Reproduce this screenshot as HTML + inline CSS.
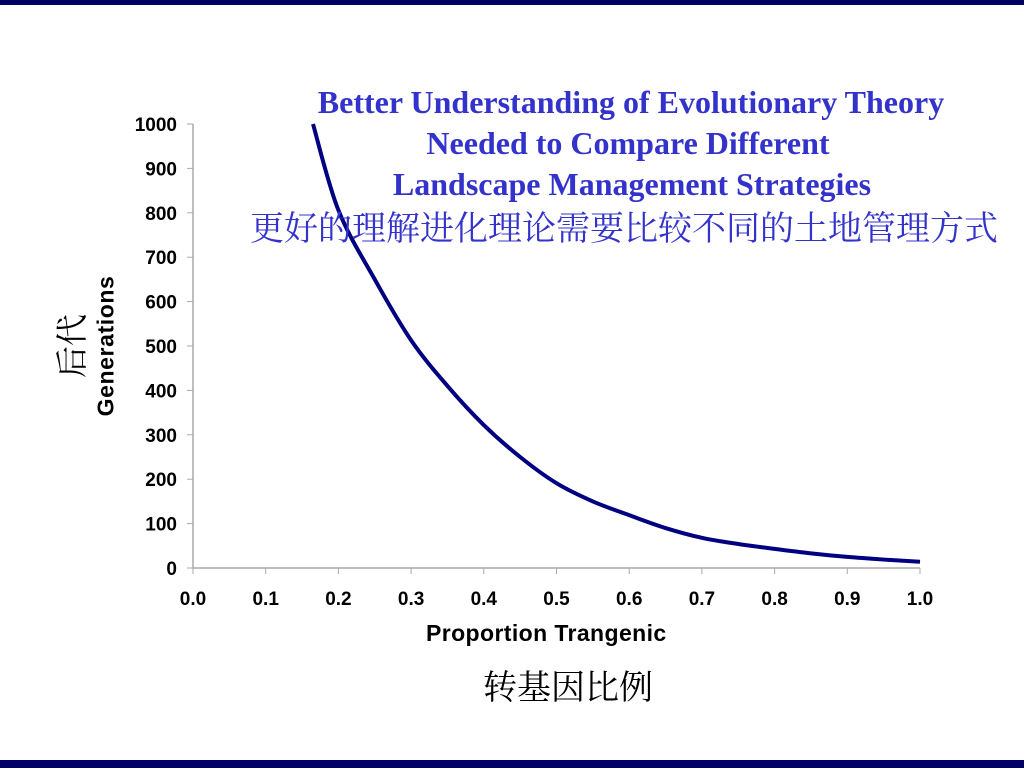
<!DOCTYPE html>
<html><head><meta charset="utf-8"><style>
body{margin:0;width:1024px;height:768px;background:#fff;position:relative;overflow:hidden;font-family:"Liberation Sans",sans-serif}
.t{position:absolute;white-space:nowrap}
.tl{position:absolute;left:131px;width:1000px;text-align:center;color:#3333cc;font:bold 32px 'Liberation Serif',serif;white-space:nowrap}
</style></head><body>
<div style="position:absolute;left:0;top:0;width:1024px;height:5px;background:#000066"></div>
<div style="position:absolute;left:0;top:760px;width:1024px;height:8px;background:#000066"></div>
<svg id="chart" width="1024" height="768" style="position:absolute;left:0;top:0"></svg>
<div>
<div class="tl" style="top:84px">Better Understanding of Evolutionary Theory</div>
<div class="tl" style="top:125px;left:128px">Needed to Compare Different</div>
<div class="tl" style="top:166px;left:132px">Landscape Management Strategies</div>
</div>
<div class="t" style="left:250px;top:204px;color:#3333cc;font:34px 'Noto Serif CJK SC','Noto Sans CJK SC',serif;line-height:44px">更好的理解进化理论需要比较不同的土地管理方式</div>
<div class="t" style="left:426px;top:620px;font:bold 23px 'Liberation Sans',sans-serif;letter-spacing:0.4px">Proportion Trangenic</div>
<div class="t" style="left:483px;top:662px;font:34px 'Noto Serif CJK SC',serif;line-height:46px">转基因比例</div>
<div class="t" style="left:106px;top:346px;transform:translate(-50%,-50%) rotate(-90deg);font:bold 23px 'Liberation Sans',sans-serif;letter-spacing:0.6px">Generations</div>
<div class="t" style="left:70px;top:346px;transform:translate(-50%,-50%) rotate(-90deg);font:32px 'Noto Serif CJK SC',serif">后代</div>
<script>
const xTicks=[0,0.1,0.2,0.3,0.4,0.5,0.6,0.7,0.8,0.9,1.0];
const yTicks=[0,100,200,300,400,500,600,700,800,900,1000];
const xs=[0.165,0.2,0.25,0.3,0.35,0.4,0.45,0.5,0.55,0.6,0.65,0.7,0.75,0.8,0.85,0.9,0.95,1.0];
const ys=[1000,806,650,513,410,322,250,191,150,119,90,68,54,43,33,25,19,14];
const svg=document.getElementById('chart');const NS='http://www.w3.org/2000/svg';
const X=v=>193+v*727, Y=v=>568-v*0.444;
function mk(t,a){const e=document.createElementNS(NS,t);for(const k in a)e.setAttribute(k,a[k]);svg.appendChild(e);return e;}
let e=mk('line',{x1:193,y1:124,x2:193,y2:568,stroke:'#aaa','stroke-width':1.5});


e=mk('line',{x1:193,y1:568,x2:920,y2:568,stroke:'#aaa','stroke-width':1.5});


xTicks.forEach(v=>{mk('line',{x1:X(v),y1:568,x2:X(v),y2:574,stroke:'#aaa'});
const t=mk('text',{x:X(v),y:605,'text-anchor':'middle','font-family':'Liberation Sans','font-weight':'bold','font-size':19});t.textContent=v.toFixed(1);

});
yTicks.forEach(v=>{mk('line',{x1:187,y1:Y(v),x2:193,y2:Y(v),stroke:'#aaa'});
const t=mk('text',{x:177,y:Y(v)+7,'text-anchor':'end','font-family':'Liberation Sans','font-weight':'bold','font-size':19});t.textContent=v;

});
const P=xs.map((v,i)=>[X(v),Y(ys[i])]);
let d='M'+P[0][0].toFixed(1)+','+P[0][1].toFixed(1);
for(let i=0;i<P.length-1;i++){const p0=P[Math.max(0,i-1)],p1=P[i],p2=P[i+1],p3=P[Math.min(P.length-1,i+2)];
const c1=[p1[0]+(p2[0]-p0[0])/6,p1[1]+(p2[1]-p0[1])/6],c2=[p2[0]-(p3[0]-p1[0])/6,p2[1]-(p3[1]-p1[1])/6];
d+=' C'+c1.join(',')+' '+c2.join(',')+' '+p2.join(',');}
const p=mk('path',{d:d,fill:'none',stroke:'#000080','stroke-width':4,'stroke-linejoin':'round'});


</script>
</body></html>
